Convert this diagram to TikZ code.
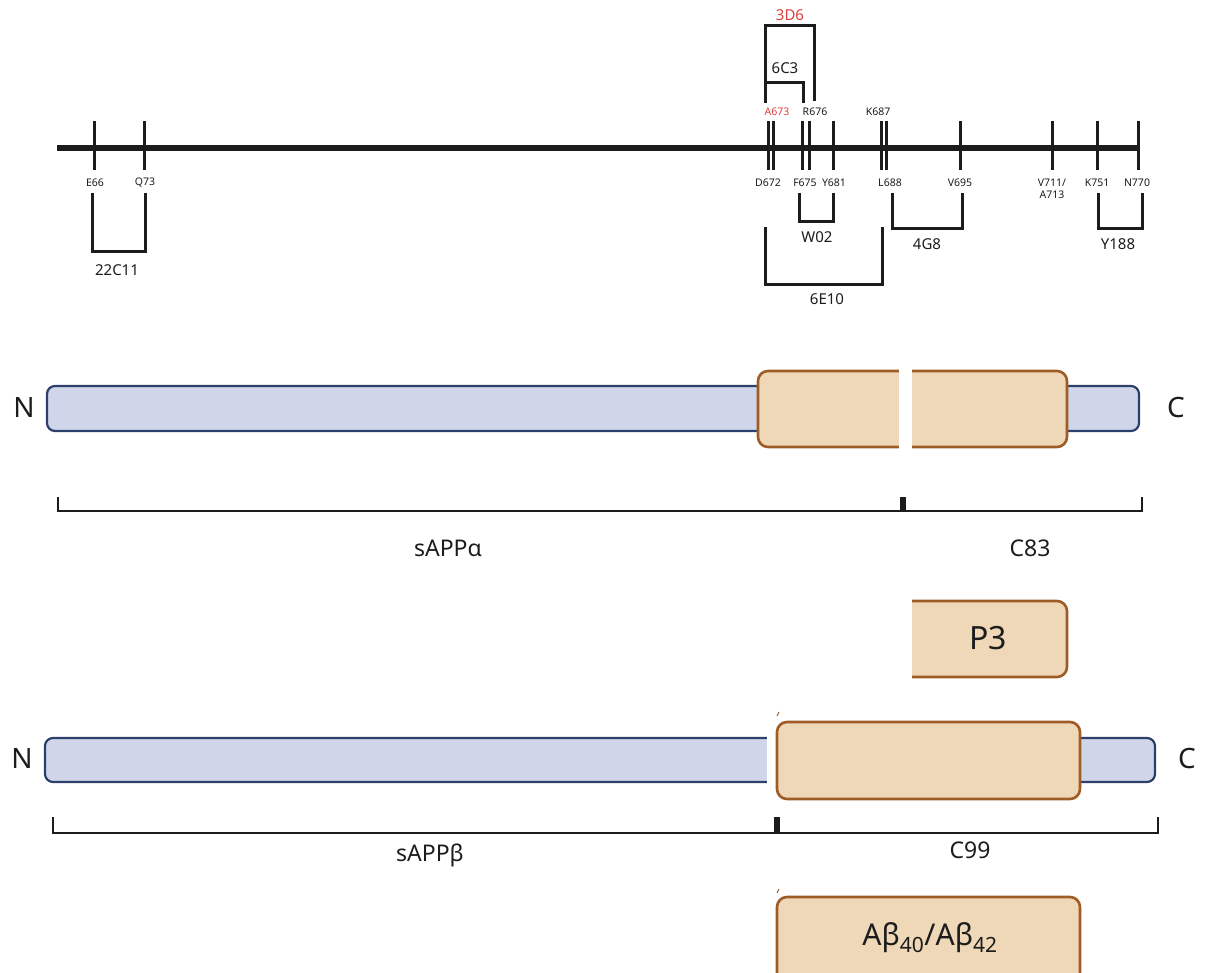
\documentclass[tikz,border=0pt]{standalone}
\usepackage{fontspec}
\setmainfont{Noto Sans}
\definecolor{ink}{HTML}{1C1C1C}
\definecolor{redlab}{HTML}{D9413B}
\definecolor{bluefill}{HTML}{CFD6E9}
\definecolor{blueline}{HTML}{2C3F6D}
\definecolor{orfill}{HTML}{EED8B7}
\definecolor{orline}{HTML}{A05C27}
\begin{document}
\begin{tikzpicture}[x=1pt,y=-1pt,
  tickmark/.style={line width=3pt, draw=ink},
  brk/.style={line width=3pt, draw=ink, line join=miter},
  lab/.style={font=\fontsize{10.5}{12}\selectfont, inner sep=0pt, text=ink},
  blab/.style={font=\fontsize{15}{18}\selectfont, inner sep=0pt, text=ink},
  big/.style={font=\fontsize{28}{32}\selectfont, inner sep=0pt, text=ink},
  mid/.style={font=\fontsize{23}{27}\selectfont, inner sep=0pt, text=ink},
  bluebar/.style={fill=bluefill, draw=blueline, line width=2.2pt, rounded corners=8pt},
  orangebox/.style={fill=orfill, draw=orline, line width=2.6pt, rounded corners=10pt},
  span/.style={line width=2.5pt, draw=ink, line join=miter},
]
\useasboundingbox (0,0) rectangle (1205,973);

% ---------- sequence line ----------
\coordinate (ls) at (57,148);
\coordinate (le) at (1140,148);
\draw[line width=6.5pt, draw=ink] (ls) -- (le);
\foreach \x in {94,144,768,773,802,809,833,881,886,960,1052,1097,1138}
  \draw[tickmark] (\x,121) -- (\x,170);

% labels above
\node[lab, text=redlab] (a673) at (777,112) {A673};
\node[lab] (r676) at (815,112) {R676};
\node[lab] (k687) at (878,112) {K687};
% labels below
\node[lab] (e66) at (95,183) {E66};
\node[lab] (q73) at (145,183) {Q73};
\node[lab] (d672) at (768,183) {D672};
\node[lab] (f675) at (805,183) {F675};
\node[lab] (y681) at (834,183) {Y681};
\node[lab] (l688) at (890,183) {L688};
\node[lab] (v695) at (960,183) {V695};
\node[lab, align=center] (v711) at (1052,189) {V711/\\A713};
\node[lab] (k751) at (1097,183) {K751};
\node[lab] (n770) at (1137,183) {N770};

% antibody brackets
\draw[brk] (92,193) -- (92,252) -- (145,252) -- (145,193);
\node[blab] (ab22c11) at (117,270) {22C11};
\draw[brk] (799,193) -- (799,222) -- (833,222) -- (833,193);
\node[blab] (abw02) at (817,237) {W02};
\draw[brk] (765,227) -- (765,285) -- (882,285) -- (882,227);
\node[blab] (ab6e10) at (827,299) {6E10};
\draw[brk] (892,193) -- (892,229) -- (962,229) -- (962,193);
\node[blab] (ab4g8) at (927,244) {4G8};
\draw[brk] (1098,193) -- (1098,229) -- (1142,229) -- (1142,193);
\node[blab] (aby188) at (1118,244) {Y188};
\draw[brk] (765,103) -- (765,26) -- (814,26) -- (814,101);
\node[blab, text=redlab] (ab3d6) at (790,15) {3D6};
\draw[brk] (765,83) -- (803,83) -- (803,103);
\node[blab] (ab6c3) at (785,68) {6C3};

% ---------- row 1: alpha cleavage ----------
\draw[bluebar] (47,386) rectangle (1139,431);
\draw[orangebox] (758,371) rectangle (1067,447);
\fill[white] (899,366) rectangle (912,452);
\node[big] (n1) at (24,408) {N};
\node[big] (c1) at (1176,408) {C};

\draw[span] (58,497) -- (58,511) -- (1142,511) -- (1142,497);
\fill[ink] (900,497) rectangle (906,511);
\node[mid] (sappa) at (448,548) {sAPPα};
\node[mid] (c83) at (1030,548) {C83};

% P3
\draw[orline, fill=orfill, line width=2.6pt, rounded corners=10pt]
  (912,601) -- (1067,601) -- (1067,677) -- (912,677);
\node[font=\fontsize{32}{36}\selectfont, inner sep=0pt, text=ink] (p3) at (988,638) {P3};

% ---------- row 2: beta cleavage ----------
\draw[bluebar] (45,738) rectangle (1155,782);
\fill[white] (767,733) rectangle (776,787);
\draw[orangebox] (777,722) rectangle (1080,799);
\draw[orline, line width=1pt] (777,716) -- (779,712);
\node[big] (n2) at (22,759) {N};
\node[big] (c2) at (1187,759) {C};

\draw[span] (53,817) -- (53,833) -- (1158,833) -- (1158,817);
\fill[ink] (774,817) rectangle (780,833);
\node[mid] (sappb) at (430,855) {sAPPβ};
\node[mid] (c99) at (970,850) {C99};

% Abeta
\begin{scope}
\clip (0,0) rectangle (1205,973);
\draw[orangebox] (777,897) rectangle (1080,990);
\end{scope}
\draw[orline, line width=1pt] (777,893) -- (779,889);
\node[font=\fontsize{30}{34}\selectfont, inner sep=0pt, text=ink] (abeta) at (930,938)
  {Aβ\textsubscript{40}/Aβ\textsubscript{42}};
\end{tikzpicture}
\end{document}
